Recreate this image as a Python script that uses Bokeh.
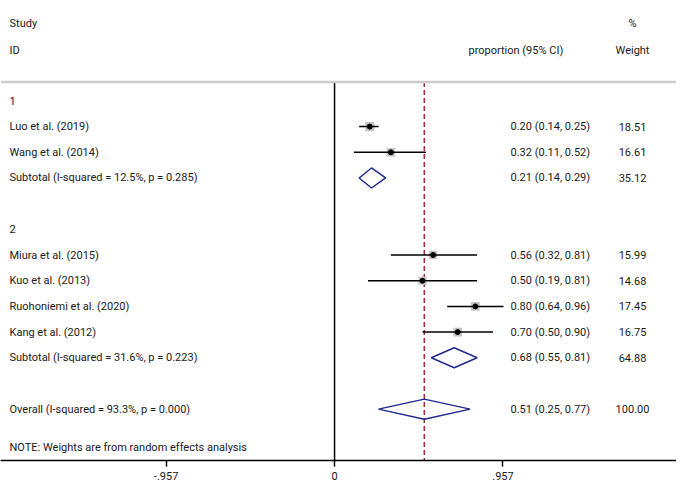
from bokeh.plotting import figure
from bokeh.models import Range1d, LinearAxis, FixedTicker, Span, ColumnDataSource
from bokeh.core.properties import value
from bokeh.embed import file_html
from bokeh.resources import INLINE

# ---- data ----
studies = ["Luo et al. (2019)", "Wang et al. (2014)", "Miura et al. (2015)",
           "Kuo et al. (2013)", "Ruohoniemi et al. (2020)", "Kang et al. (2012)"]
study_group = [1, 1, 2, 2, 2, 2]
es = [0.20, 0.32, 0.56, 0.50, 0.80, 0.70]
lo = [0.14, 0.11, 0.32, 0.19, 0.64, 0.50]
hi = [0.25, 0.52, 0.81, 0.81, 0.96, 0.90]
weights = [18.51, 16.61, 15.99, 14.68, 17.45, 16.75]

groups = [1, 2]
sub_labels = ["Subtotal (I-squared = 12.5%, p = 0.285)",
              "Subtotal (I-squared = 31.6%, p = 0.223)"]
sub_es = [0.21, 0.68]
sub_lo = [0.14, 0.55]
sub_hi = [0.29, 0.81]
sub_w = [35.12, 64.88]

overall_label = "Overall (I-squared = 93.3%, p = 0.000)"
overall_es = 0.51
overall_lo = 0.25
overall_hi = 0.77
overall_w = 100.00

note = "NOTE: Weights are from random effects analysis"
tick_vals = [-0.957, 0.0, 0.957]
tick_labels = ["-.957", "0", ".957"]

FONT = value("Roboto")
FS = "11px"
TXT = "#1a1a1a"

# ---- row layout ----
rows_label, rows_y = [], []
pt_rows = []
sub_rows = []
r = 0
for g_i, g in enumerate(groups):
    rows_label.append(str(g)); rows_y.append(r); r += 1
    for i, s in enumerate(studies):
        if study_group[i] == g:
            rows_label.append(s); rows_y.append(r); pt_rows.append(r); r += 1
    rows_label.append(sub_labels[g_i]); rows_y.append(r); sub_rows.append(r); r += 1
    r += 1
overall_row = r
rows_label.append(overall_label); rows_y.append(overall_row)
note_row = overall_row + 1.5
top_line = -0.74
y_bottom = overall_row + 2.0

x0, x1 = -1.898, 1.943
p = figure(width=676, height=482, output_backend="svg", toolbar_location=None,
           x_range=Range1d(x0, x1), y_range=Range1d(y_bottom, -3.91),
           x_axis_location=None, y_axis_location=None,
           min_border_left=0, min_border_right=0, min_border_top=0, min_border_bottom=0)
p.grid.visible = False
p.outline_line_color = None
p.background_fill_color = "white"
p.border_fill_color = "white"

ax = LinearAxis(ticker=FixedTicker(ticks=tick_vals),
                major_label_overrides={v: l for v, l in zip(tick_vals, tick_labels)})
ax.axis_line_color = "black"
ax.axis_line_width = 1.5
ax.major_tick_line_color = "black"
ax.major_tick_line_width = 1.5
ax.major_tick_out = 6
ax.major_tick_in = 0
ax.minor_tick_line_color = None
ax.major_label_text_font = "Roboto"
ax.major_label_text_font_size = FS
ax.major_label_text_color = TXT
ax.major_label_standoff = 5
p.add_layout(ax, "below")

# header line
p.add_layout(Span(location=top_line, dimension="width", line_color="#cccccc", line_width=2.5))

# null line and overall dashed line
p.segment(x0=[0], y0=[top_line], x1=[0], y1=[y_bottom], line_color="black", line_width=1.5)
p.segment(x0=[overall_es], y0=[top_line], x1=[overall_es], y1=[y_bottom],
          line_color="#9c2b3c", line_width=1.5, line_dash="5 3")

# study CIs
src = ColumnDataSource(dict(y=pt_rows, es=es, lo=lo, hi=hi,
                            sz=[w ** 0.5 * 2.1 for w in weights]))
p.scatter(x="es", y="y", size="sz", marker="square", source=src,
          fill_color="#c4c4c4", line_color=None)
p.segment(x0="lo", y0="y", x1="hi", y1="y", source=src, line_color="black", line_width=1.5)
p.scatter(x="es", y="y", size=5, source=src, fill_color="black", line_color="black")

# diamonds
h = 0.39
d_es = sub_es + [overall_es]
d_lo = sub_lo + [overall_lo]
d_hi = sub_hi + [overall_hi]
d_rows = sub_rows + [overall_row]
xs = [[l, e, u, e] for l, e, u in zip(d_lo, d_es, d_hi)]
ys = [[rr, rr - h, rr, rr + h] for rr in d_rows]
p.patches(xs=xs, ys=ys, fill_color="white", fill_alpha=0.0, line_color="#1f2a8c", line_width=1.5)

# left text
p.text(x=[x0] * len(rows_y), y=rows_y, text=rows_label, x_offset=9,
       text_font=FONT, text_font_size=FS, text_baseline="middle", text_align="left",
       text_color=TXT)
p.text(x=[x0, x0, x0], y=[-3.0, -1.95, note_row], text=["Study", "ID", note], x_offset=9,
       text_font=FONT, text_font_size=FS, text_baseline="middle", text_align="left",
       text_color=TXT)

# right columns
all_rows = pt_rows + d_rows
all_es = es + d_es
all_lo = lo + d_lo
all_hi = hi + d_hi
all_w = weights + sub_w + [overall_w]
es_txt = [f"{e:.2f} ({l:.2f}, {u:.2f})" for e, l, u in zip(all_es, all_lo, all_hi)]
w_txt = [f"{w:.2f}" for w in all_w]
es_col = 1.0
w_col = 1.693
p.text(x=[es_col] * len(all_rows), y=all_rows, text=es_txt,
       text_font=FONT, text_font_size=FS, text_baseline="middle", text_align="left",
       text_color=TXT)
p.text(x=[w_col] * len(all_rows), y=all_rows, text=w_txt,
       text_font=FONT, text_font_size=FS, text_baseline="middle", text_align="center",
       text_color=TXT)
p.text(x=[w_col, w_col], y=[-3.0, -1.95], text=["%", "Weight"],
       text_font=FONT, text_font_size=FS, text_baseline="middle", text_align="center",
       text_color=TXT)
p.text(x=[0.761], y=[-1.95], text=["proportion (95% CI)"],
       text_font=FONT, text_font_size=FS, text_baseline="middle", text_align="left",
       text_color=TXT)

open("out.html", "w").write(file_html(p, INLINE))
